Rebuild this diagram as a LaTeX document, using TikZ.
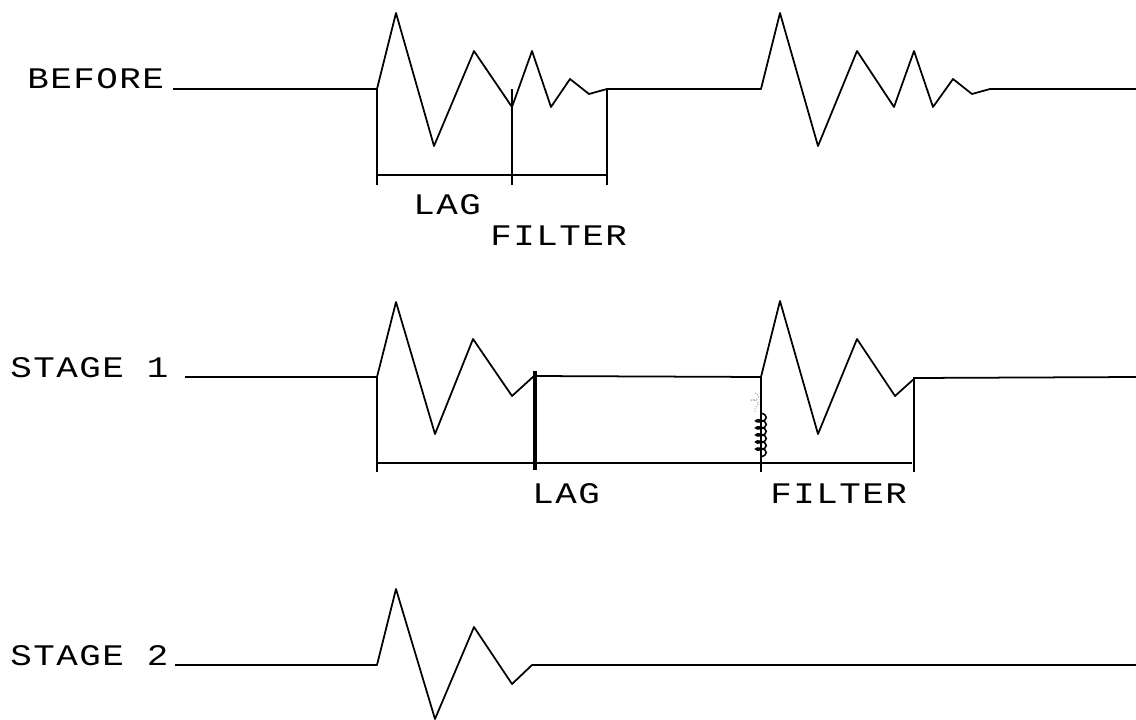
\documentclass[tikz,border=0pt]{standalone}
\usepackage{fontspec}
\newfontfamily\plotfont{Liberation Mono}[FakeStretch=1.2, LetterSpace=5]
\usetikzlibrary{decorations.pathmorphing}

\begin{document}
\begin{tikzpicture}[
    x={(0.02cm,0)}, y={(0,-0.02cm)},
    trace/.style={line width=1pt, line join=round},
    marker/.style={line width=0.9pt},
    lbl/.style={anchor=base west, inner sep=0pt, font=\plotfont\fontsize{17pt}{20pt}\selectfont}
]
\useasboundingbox (0,0) rectangle (1136,720);

% row labels
\node[lbl] (before) at (27,88) {BEFORE};
\node[lbl] (stage1) at (10,377) {STAGE 1};
\node[lbl] (stage2) at (10,665) {STAGE 2};

% before
\draw[trace] (173,89) -- (377,89) -- (396,13) -- (434,146) -- (474,51) -- (512,107)
    -- (532,51) -- (551,107) -- (570,79) -- (589,94) -- (607,89) -- (761,89)
    -- (780,13) -- (818,146) -- (857,51) -- (894,107) -- (914,51) -- (933,107)
    -- (953,79) -- (972,94) -- (990,89) -- (1136,89);
\draw[marker] (377,89) -- (377,185);
\draw[marker] (512,89) -- (512,185);
\draw[marker] (607,89) -- (607,185);
\draw[marker] (377,175) -- (607,175);
\node[lbl] (lag0) at (413,214) {LAG};
\node[lbl] (filter0) at (490,245) {FILTER};

% stage 1
\draw[trace] (185,377) -- (377,377) -- (396,302) -- (435,434) -- (473,339) -- (512,396)
    -- (534,376) -- (761,377) -- (780,301) -- (818,434) -- (857,339) -- (895,396)
    -- (915,378) -- (1136,377);
\draw[marker] (377,377) -- (377,472);
\draw[line width=2.3pt] (535,371) -- (535,470);
\draw[marker] (761,377) -- (761,472);
\draw[marker] (914,377) -- (914,472);
\draw[marker] (377,463) -- (912,463);
\draw[line width=0.9pt, decorate, decoration={coil, amplitude=3pt, segment length=4pt}] (761,413) -- (761,458);
\draw[gray, line width=0.5pt, densely dotted, decorate, decoration={coil, amplitude=2pt, segment length=4pt}] (755,393) -- (755,412);
\node[lbl] (lag1) at (532,503) {LAG};
\node[lbl] (filter1) at (770,503) {FILTER};

% stage 2
\draw[trace] (175,665) -- (377,665) -- (396,589) -- (435,719) -- (474,627) -- (512,684)
    -- (532,665) -- (1136,665);
\end{tikzpicture}
\end{document}
